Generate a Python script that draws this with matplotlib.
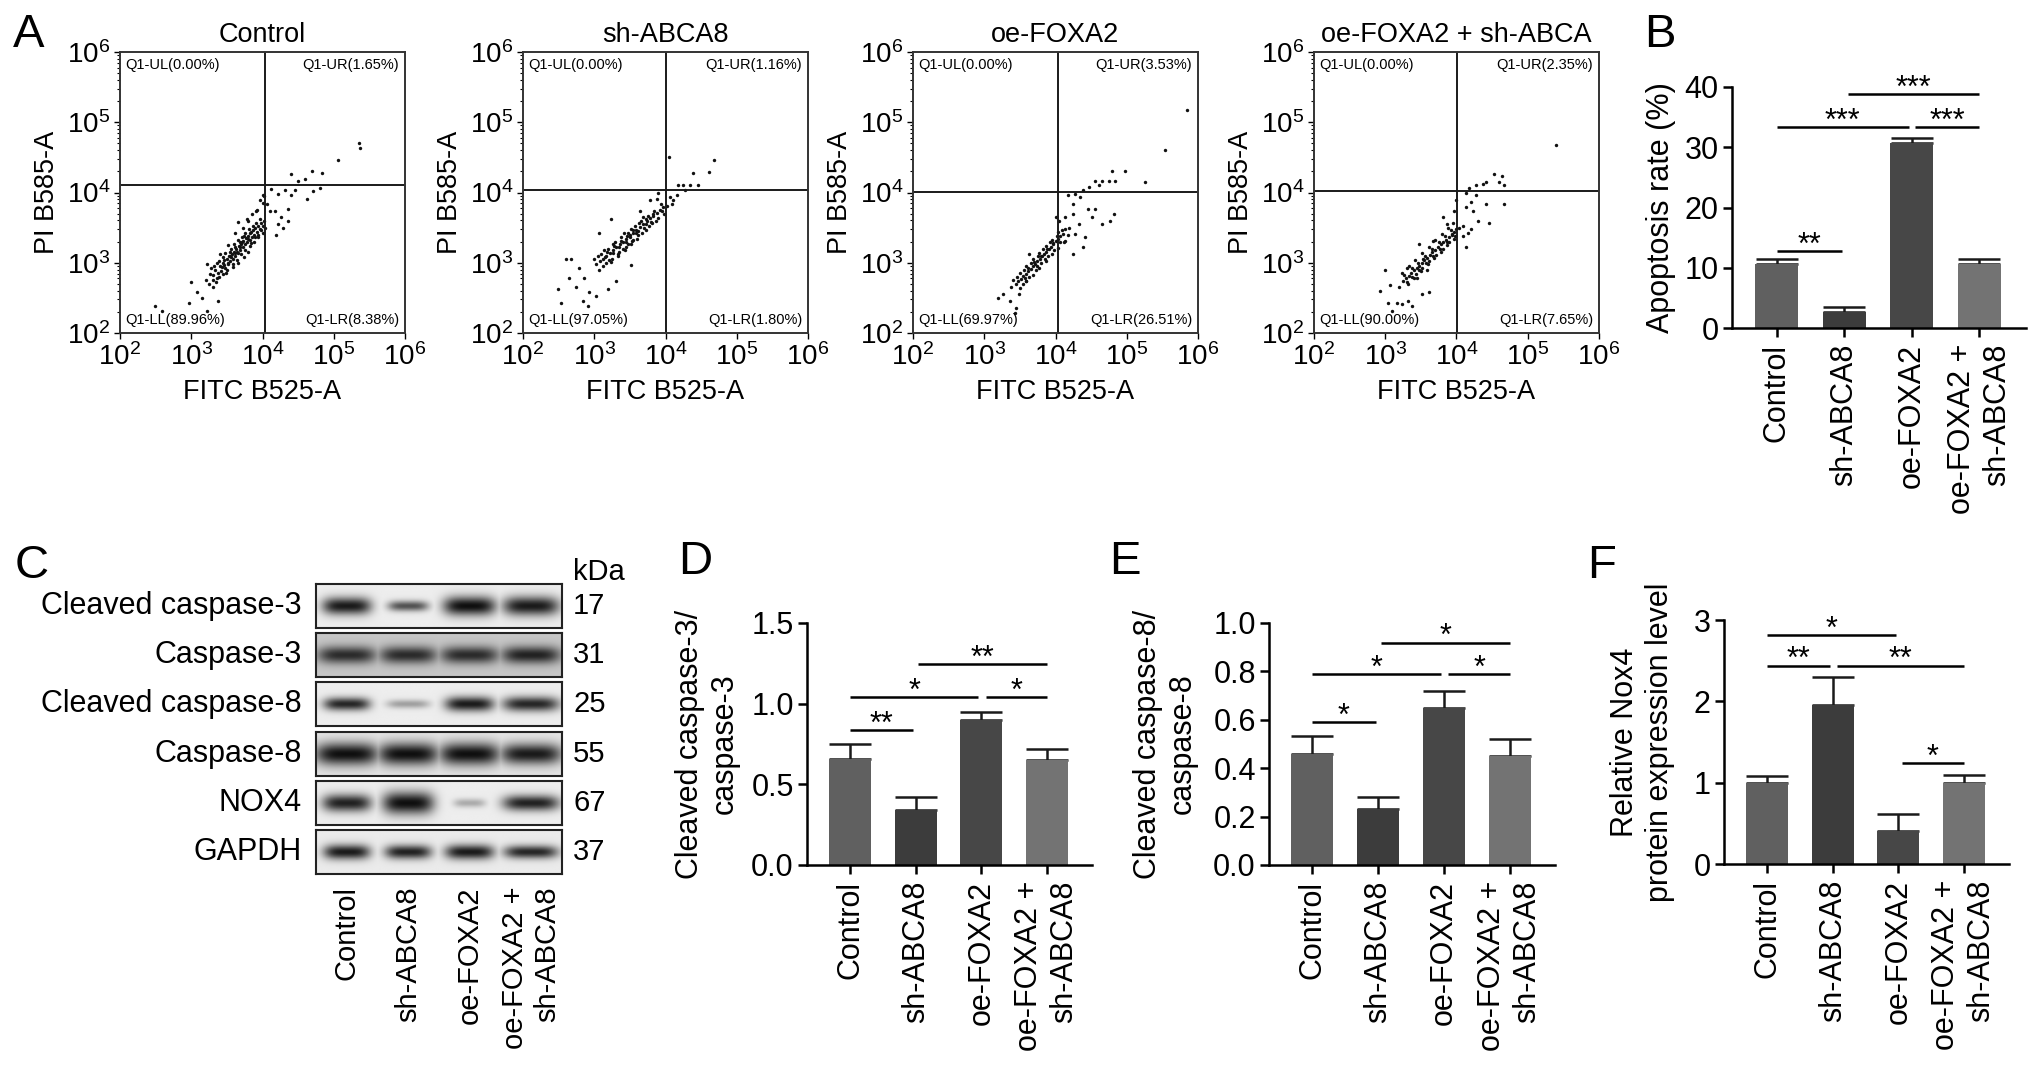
import numpy as np
import matplotlib
matplotlib.use("Agg")
import matplotlib.pyplot as plt
from matplotlib.ticker import NullFormatter

plt.rcParams['font.family'] = ['Liberation Sans', 'DejaVu Sans']
plt.rcParams['mathtext.fontset'] = 'custom'
plt.rcParams['mathtext.rm'] = 'Liberation Sans'
plt.rcParams['mathtext.it'] = 'Liberation Sans:italic'
plt.rcParams['mathtext.bf'] = 'Liberation Sans:bold'

W, H = 2032, 1068

# ---------------- data ----------------
groups = ['Control', 'sh-ABCA8', 'oe-FOXA2', 'oe-FOXA2 +\nsh-ABCA8']
bar_colors = ['#606060', '#3c3c3c', '#474747', '#737373']

flow_titles = ['Control', 'sh-ABCA8', 'oe-FOXA2', 'oe-FOXA2 + sh-ABCA']
flow_quadrants = [('0.00', '1.65', '89.96', '8.38'),
                  ('0.00', '1.16', '97.05', '1.80'),
                  ('0.00', '3.53', '69.97', '26.51'),
                  ('0.00', '2.35', '90.00', '7.65')]
# quadrant gates (log10 FITC, log10 PI)
gate_x = [4.04, 4.00, 4.04, 4.01]
gate_y = [4.11, 4.03, 4.01, 4.02]

# events as (log10 FITC, log10 PI)
ctrl_events = [
    (3.30, 2.82), (3.34, 2.90), (3.38, 2.86), (3.40, 2.95), (3.42, 2.88), (3.45, 3.00), (3.47, 2.93),
    (3.50, 3.05), (3.52, 2.98), (3.53, 3.10), (3.55, 3.02), (3.57, 3.12), (3.58, 3.06), (3.60, 3.16),
    (3.62, 3.10), (3.63, 3.20), (3.65, 3.14), (3.67, 3.24), (3.68, 3.18), (3.70, 3.27), (3.72, 3.22),
    (3.73, 3.31), (3.75, 3.26), (3.77, 3.35), (3.78, 3.30), (3.80, 3.38), (3.82, 3.33), (3.83, 3.42),
    (3.85, 3.37), (3.87, 3.46), (3.88, 3.40), (3.90, 3.49), (3.92, 3.44), (3.94, 3.52), (3.96, 3.48),
    (3.98, 3.56), (4.00, 3.52), (4.02, 3.60),
    (3.28, 2.92), (3.36, 3.00), (3.44, 3.08), (3.48, 3.14), (3.56, 3.20), (3.60, 3.26), (3.66, 3.32),
    (3.71, 3.36), (3.76, 3.42), (3.81, 3.48), (3.86, 3.52), (3.91, 3.57), (3.96, 3.62),
    (3.36, 2.78), (3.44, 2.84), (3.50, 2.90), (3.58, 2.98), (3.64, 3.04), (3.70, 3.12), (3.76, 3.18),
    (3.82, 3.24), (3.88, 3.30), (3.94, 3.36), (4.00, 3.42), (4.04, 3.50),
    (3.32, 2.96), (3.39, 2.80), (3.46, 3.04), (3.49, 2.86), (3.54, 3.16), (3.59, 2.94), (3.61, 3.22),
    (3.66, 3.00), (3.69, 3.30), (3.74, 3.08), (3.74, 3.38), (3.79, 3.16), (3.84, 3.28), (3.89, 3.36),
    (3.93, 3.40), (3.98, 3.46), (3.43, 2.94), (3.51, 3.00), (3.56, 3.08), (3.64, 3.16), (3.69, 3.22),
    (3.79, 3.34), (3.84, 3.44), (3.31, 2.76), (3.26, 2.84), (3.39, 3.02), (3.46, 2.97), (3.54, 3.10),
    (3.61, 3.14), (3.71, 3.30),
    (3.20, 2.75), (3.25, 2.70), (3.30, 2.65), (3.35, 2.72), (3.22, 2.98), (3.40, 3.12), (3.52, 3.25),
    (3.62, 3.42), (3.72, 3.50), (3.78, 3.62), (3.85, 3.70), (3.92, 3.75), (4.00, 3.85), (4.02, 3.95),
    (2.49, 2.39), (2.59, 2.31), (2.99, 2.72), (2.97, 2.43), (3.22, 2.31), (3.15, 2.50), (3.37, 2.46),
    (3.08, 2.58),
    (4.17, 3.74), (4.26, 3.65), (4.36, 3.77), (4.40, 3.96), (4.22, 3.98), (4.31, 4.03), (4.45, 4.03),
    (4.12, 4.05), (4.50, 4.17), (4.40, 4.27), (4.59, 4.19), (4.69, 4.31), (4.83, 4.28), (4.80, 4.07),
    (4.62, 3.91), (4.71, 4.02), (5.06, 4.46), (5.35, 4.70), (5.37, 4.64), (4.07, 3.84), (4.22, 3.55),
    (4.29, 3.50), (4.19, 3.39), (4.36, 3.60), (4.10, 3.74), (4.00, 3.96), (3.96, 3.89), (3.91, 3.74),
    (3.79, 3.60), (3.65, 3.58)]

sh_events = [
    (3.03, 2.98), (3.08, 3.02), (3.12, 3.06), (3.17, 3.10), (3.22, 3.14), (3.27, 3.18), (3.31, 3.22),
    (3.36, 3.26), (3.41, 3.30), (3.45, 3.34), (3.50, 3.39), (3.55, 3.43), (3.59, 3.47), (3.64, 3.51),
    (3.69, 3.55), (3.74, 3.59), (3.78, 3.63), (3.83, 3.67), (3.88, 3.71), (3.92, 3.75), (3.97, 3.79),
    (3.00, 3.06), (3.10, 3.13), (3.19, 3.20), (3.29, 3.29), (3.38, 3.36), (3.47, 3.43), (3.57, 3.52),
    (3.66, 3.59), (3.75, 3.67), (3.84, 3.74), (3.93, 3.83),
    (3.07, 2.90), (3.16, 2.99), (3.25, 3.06), (3.35, 3.15), (3.44, 3.23), (3.53, 3.31), (3.62, 3.39),
    (3.72, 3.47), (3.81, 3.56), (3.90, 3.63), (3.98, 3.70),
    (3.20, 3.04), (3.33, 3.12), (3.40, 3.20), (3.48, 3.27), (3.55, 3.33), (3.62, 3.45), (3.70, 3.50),
    (3.80, 3.58), (3.14, 3.18), (3.26, 3.26), (3.42, 3.42), (3.52, 3.48), (3.68, 3.65),
    (3.05, 3.10), (3.12, 2.95), (3.18, 3.16), (3.24, 3.01), (3.28, 3.24), (3.33, 3.09), (3.37, 3.31),
    (3.43, 3.18), (3.46, 3.38), (3.51, 3.26), (3.54, 3.46), (3.60, 3.34), (3.63, 3.56), (3.67, 3.43),
    (3.72, 3.62), (3.77, 3.52), (3.82, 3.70), (3.86, 3.60), (3.95, 3.74), (3.35, 3.22), (3.45, 3.30),
    (3.58, 3.42), (3.73, 3.55), (3.15, 3.08), (3.26, 3.14),
    (2.49, 2.62), (2.53, 2.43), (2.60, 3.05), (2.67, 3.05), (2.74, 2.65), (2.84, 2.46), (2.91, 2.39),
    (3.03, 2.53), (2.93, 2.58), (3.19, 2.62), (3.31, 2.74), (3.52, 2.97), (2.79, 2.93), (2.65, 2.79),
    (2.86, 2.79), (3.07, 3.43), (3.24, 3.62), (3.50, 3.36), (3.64, 3.74), (3.78, 3.89), (3.88, 3.91),
    (3.90, 4.00),
    (4.05, 4.50), (4.68, 4.46), (4.61, 4.29), (4.39, 4.28), (4.18, 4.10), (4.25, 4.10), (4.35, 4.10),
    (4.46, 4.10), (4.28, 4.03), (4.16, 3.96), (4.06, 3.94), (4.11, 3.89), (4.02, 3.81), (4.09, 3.84)]

oe_events = [
    (3.45, 2.70), (3.52, 2.77), (3.58, 2.84), (3.65, 2.91), (3.71, 2.98), (3.78, 3.06), (3.84, 3.13),
    (3.91, 3.20), (3.97, 3.27), (4.04, 3.34), (4.10, 3.41),
    (3.48, 2.74), (3.55, 2.81), (3.61, 2.88), (3.68, 2.95), (3.74, 3.02), (3.81, 3.09), (3.87, 3.16),
    (3.94, 3.23), (4.00, 3.31), (4.07, 3.38),
    (3.41, 2.76), (3.50, 2.86), (3.59, 2.95), (3.68, 3.05), (3.77, 3.14), (3.86, 3.24), (3.95, 3.33),
    (4.04, 3.44),
    (3.50, 2.64), (3.59, 2.74), (3.68, 2.83), (3.77, 2.93), (3.86, 3.02), (3.95, 3.12), (4.04, 3.21),
    (4.12, 3.30),
    (3.46, 2.80), (3.54, 2.70), (3.56, 2.90), (3.63, 2.80), (3.66, 3.00), (3.72, 2.90), (3.75, 3.10),
    (3.80, 3.00), (3.83, 3.20), (3.89, 3.10), (3.92, 3.29), (3.98, 3.18), (4.02, 3.38), (3.62, 2.92),
    (3.70, 3.01), (3.79, 3.10), (3.88, 3.20), (3.96, 3.28), (3.57, 2.78), (3.74, 2.96), (3.85, 3.06),
    (4.06, 3.30), (4.09, 3.46), (4.13, 3.48), (4.18, 3.40),
    (3.19, 2.50), (3.26, 2.55), (3.36, 2.46), (3.45, 2.36), (3.43, 2.29), (3.38, 2.65), (3.49, 2.55),
    (3.59, 2.74), (3.63, 3.12),
    (4.14, 3.65), (4.24, 3.70), (4.33, 3.55), (4.42, 3.36), (4.38, 3.22), (4.19, 3.50), (4.28, 3.41),
    (4.51, 3.65), (4.65, 3.55), (4.77, 3.60), (4.82, 3.70), (4.56, 3.77), (4.45, 3.77), (4.24, 3.84),
    (4.17, 3.96), (4.28, 3.98), (4.38, 4.03), (4.47, 4.08), (4.56, 4.17), (4.65, 4.17), (4.75, 4.17),
    (4.84, 4.17), (4.61, 4.10), (4.79, 4.30), (4.98, 4.30), (5.26, 4.15), (5.53, 4.61), (5.85, 5.18),
    (4.14, 3.31), (4.24, 3.12), (4.05, 3.60), (4.00, 3.65), (4.35, 3.93)]

combo_events = [
    (3.25, 2.74), (3.29, 2.78), (3.33, 2.81), (3.36, 2.85), (3.40, 2.89), (3.44, 2.93), (3.48, 2.96),
    (3.51, 3.00), (3.55, 3.04), (3.59, 3.07), (3.63, 3.11), (3.66, 3.15), (3.70, 3.18), (3.74, 3.22),
    (3.78, 3.26), (3.81, 3.30), (3.85, 3.33), (3.89, 3.37), (3.93, 3.41), (3.96, 3.44), (4.00, 3.48),
    (3.24, 2.86), (3.33, 2.95), (3.42, 3.04), (3.52, 3.14), (3.61, 3.23), (3.70, 3.32), (3.79, 3.41),
    (3.88, 3.50), (3.95, 3.56),
    (3.32, 2.70), (3.41, 2.79), (3.50, 2.88), (3.60, 2.98), (3.69, 3.07), (3.78, 3.16), (3.87, 3.25),
    (3.96, 3.34),
    (3.27, 2.82), (3.31, 2.72), (3.37, 2.92), (3.43, 2.84), (3.46, 3.00), (3.52, 2.92), (3.56, 3.10),
    (3.62, 3.02), (3.65, 3.20), (3.71, 3.11), (3.75, 3.29), (3.81, 3.20), (3.84, 3.38), (3.90, 3.29),
    (3.92, 3.46), (3.98, 3.38), (3.38, 2.80), (3.47, 2.90), (3.57, 2.99), (3.67, 3.09), (3.77, 3.19),
    (3.86, 3.30), (3.94, 3.40), (3.30, 2.92), (3.53, 3.06),
    (2.92, 2.60), (2.99, 2.89), (3.04, 2.43), (3.09, 2.31), (3.16, 2.43), (3.23, 2.41), (3.32, 2.46),
    (3.37, 2.39), (3.62, 2.58), (3.51, 2.55), (3.06, 2.69), (3.20, 2.65), (3.44, 2.79), (3.58, 2.89),
    (3.48, 3.27), (3.67, 3.31), (3.81, 3.65), (3.86, 3.55), (3.97, 3.74), (3.99, 3.89),
    (4.14, 4.00), (4.18, 4.07), (4.28, 4.10), (4.37, 4.12), (4.42, 4.15), (4.53, 4.27), (4.60, 4.15),
    (4.64, 4.24), (4.67, 4.10), (4.28, 3.96), (4.20, 3.86), (4.14, 3.79), (4.23, 3.74), (4.30, 3.60),
    (4.42, 3.84), (4.46, 3.56), (4.67, 3.84), (4.14, 3.22), (4.09, 3.53), (4.04, 3.50), (4.21, 3.48),
    (5.39, 4.67), (4.09, 3.38), (4.16, 3.43)]

flow_events = [ctrl_events, sh_events, oe_events, combo_events]

# bar charts: mean and SD
apoptosis_mean = [10.6, 2.7, 30.7, 10.6]
apoptosis_sd = [0.8, 0.8, 0.9, 0.9]
cc3_mean = [0.66, 0.34, 0.90, 0.65]
cc3_sd = [0.09, 0.08, 0.05, 0.07]
cc8_mean = [0.46, 0.23, 0.65, 0.45]
cc8_sd = [0.075, 0.05, 0.07, 0.07]
nox4_mean = [1.00, 1.95, 0.40, 1.00]
nox4_sd = [0.08, 0.35, 0.22, 0.10]

# significance brackets: (from group, to group, height, stars)
apoptosis_sig = [(0, 0.97, 12.8, '**'), (0, 1.96, 33.3, '***'), (2.05, 3, 33.3, '***'),
                 (1.05, 3, 38.8, '***')]
cc3_sig = [(0, 0.96, 0.835, '**'), (0, 1.95, 1.04, '*'), (2.07, 3, 1.04, '*'), (1.04, 3, 1.246, '**')]
cc8_sig = [(0, 0.96, 0.592, '*'), (0, 1.95, 0.79, '*'), (2.07, 3, 0.79, '*'), (1.04, 3, 0.919, '*')]
nox4_sig = [(0, 1.97, 2.81, '*'), (0, 0.96, 2.44, '**'), (1.06, 3, 2.44, '**'), (2.05, 3, 1.24, '*')]

# western blot
blot_rows = ['Cleaved caspase-3', 'Caspase-3', 'Cleaved caspase-8', 'Caspase-8', 'NOX4', 'GAPDH']
blot_kda = ['17', '31', '25', '55', '67', '37']
blot_intensity = [[0.95, 0.70, 1.00, 0.95],
                  [0.85, 0.85, 0.85, 0.90],
                  [0.90, 0.35, 0.95, 0.90],
                  [1.00, 1.00, 1.00, 0.95],
                  [0.92, 1.00, 0.30, 0.92],
                  [0.95, 0.92, 0.95, 0.90]]
blot_halfwidth = [[0.40, 0.33, 0.43, 0.46],
                  [0.48, 0.47, 0.48, 0.48],
                  [0.38, 0.35, 0.40, 0.46],
                  [0.52, 0.50, 0.50, 0.50],
                  [0.40, 0.42, 0.26, 0.46],
                  [0.38, 0.38, 0.40, 0.44]]
blot_halfheight = [[0.20, 0.12, 0.22, 0.22],
                   [0.20, 0.20, 0.20, 0.20],
                   [0.15, 0.10, 0.17, 0.17],
                   [0.26, 0.26, 0.26, 0.24],
                   [0.20, 0.26, 0.10, 0.18],
                   [0.17, 0.16, 0.17, 0.15]]
blot_background = [0.93, 0.78, 0.93, 0.90, 0.93, 0.92]


def px_axes(left, top, width, height):
    return fig.add_axes([left / W, 1 - (top + height) / H, width / W, height / H])


fig = plt.figure(figsize=(W / 100, H / 100), dpi=100)

# ---------------- A: flow cytometry ----------------
flow_left = [120, 523, 913, 1314]
for k in range(4):
    ax = px_axes(flow_left[k], 52, 285, 281)
    ev = np.array(flow_events[k])
    ax.scatter(10 ** ev[:, 0], 10 ** ev[:, 1], s=6, c='#111111', marker='o', linewidths=0)
    ax.set_xscale('log')
    ax.set_yscale('log')
    ax.set_xlim(1e2, 1e6)
    ax.set_ylim(1e2, 1e6)
    ax.axvline(10 ** gate_x[k], color='#1a1a1a', lw=1.4)
    ax.axhline(10 ** gate_y[k], color='#1a1a1a', lw=1.4)
    for s in ax.spines.values():
        s.set_linewidth(1.4)
        s.set_color('#333333')
    dec = [1e2, 1e3, 1e4, 1e5, 1e6]
    dec_lbl = [r'$\mathregular{10^{%d}}$' % p for p in range(2, 7)]
    ax.set_xticks(dec)
    ax.set_xticklabels(dec_lbl)
    ax.set_yticks(dec)
    ax.set_yticklabels(dec_lbl)
    ax.xaxis.set_minor_formatter(NullFormatter())
    ax.yaxis.set_minor_formatter(NullFormatter())
    ax.tick_params(which='major', direction='out', length=4, width=1, labelsize=20, pad=3)
    ax.tick_params(which='minor', direction='out', length=2.2, width=0.8)
    ax.set_title(flow_titles[k], fontsize=19.5, pad=7)
    ax.set_xlabel('FITC B525-A', fontsize=19.5, labelpad=6)
    ax.set_ylabel('PI B585-A', fontsize=19.5)
    ax.yaxis.set_label_coords(-0.21, 0.5)
    ul, ur, ll, lr = flow_quadrants[k]
    qfs = 10.5
    ax.text(0.02, 0.955, 'Q1-UL(%s%%)' % ul, transform=ax.transAxes, fontsize=qfs, va='center', ha='left')
    ax.text(0.98, 0.955, 'Q1-UR(%s%%)' % ur, transform=ax.transAxes, fontsize=qfs, va='center', ha='right')
    ax.text(0.02, 0.045, 'Q1-LL(%s%%)' % ll, transform=ax.transAxes, fontsize=qfs, va='center', ha='left')
    ax.text(0.98, 0.045, 'Q1-LR(%s%%)' % lr, transform=ax.transAxes, fontsize=qfs, va='center', ha='right')


# ---------------- bar charts ----------------
def bar_panel(ax, means, sds, top, ticks, ticklabels, ylabel, sigs, label_x):
    x = np.arange(len(groups))
    ax.errorbar(x, means, yerr=[np.zeros(len(sds)), sds], fmt='none', ecolor='#1a1a1a',
                elinewidth=1.8, capsize=15, capthick=1.8, zorder=1)
    ax.bar(x, means, width=0.64, color=bar_colors, zorder=2)
    ax.set_xlim(-0.66, 3.69)
    ax.set_ylim(0, top)
    ax.set_yticks(ticks)
    ax.set_yticklabels(ticklabels)
    ax.set_xticks(x)
    ax.set_xticklabels(groups, rotation=90, multialignment='right')
    for side in ['top', 'right']:
        ax.spines[side].set_visible(False)
    for side in ['left', 'bottom']:
        ax.spines[side].set_linewidth(1.8)
    ax.tick_params(axis='both', direction='out', length=6.5, width=1.8, labelsize=22)
    ax.tick_params(axis='y', pad=3)
    ax.tick_params(axis='x', pad=5)
    ax.set_ylabel(ylabel, fontsize=22)
    ax.yaxis.set_label_coords(label_x, 0.5)
    for x1, x2, y, txt in sigs:
        ax.plot([x1, x2], [y, y], color='black', lw=1.8, clip_on=False, solid_capstyle='butt')
        ax.annotate(txt, ((x1 + x2) / 2, y), xytext=(0, -2), textcoords='offset points',
                    ha='center', va='baseline', fontsize=22, annotation_clip=False)


axB = px_axes(1732, 87, 294, 241)
bar_panel(axB, apoptosis_mean, apoptosis_sd, 40, [0, 10, 20, 30, 40], ['0', '10', '20', '30', '40'],
          'Apoptosis rate (%)', apoptosis_sig, -0.19)

axD = px_axes(807, 623, 285, 242)
bar_panel(axD, cc3_mean, cc3_sd, 1.5, [0, 0.5, 1.0, 1.5], ['0.0', '0.5', '1.0', '1.5'],
          'Cleaved caspase-3/\ncaspase-3', cc3_sig, -0.235)

axE = px_axes(1269, 623, 286, 242)
bar_panel(axE, cc8_mean, cc8_sd, 1.0, [0, 0.2, 0.4, 0.6, 0.8, 1.0],
          ['0.0', '0.2', '0.4', '0.6', '0.8', '1.0'],
          'Cleaved caspase-8/\ncaspase-8', cc8_sig, -0.25)

axF = px_axes(1724, 620, 285, 244)
bar_panel(axF, nox4_mean, nox4_sd, 3, [0, 1, 2, 3], ['0', '1', '2', '3'],
          'Relative Nox4\nprotein expression level', nox4_sig, -0.172)

# ---------------- C: western blot ----------------
xx = np.linspace(0, 4, 400)
yy = np.linspace(0, 1, 60)
X, Y = np.meshgrid(xx, yy)
for r in range(len(blot_rows)):
    ax = px_axes(316, 584 + 49.2 * r, 246, 44)
    dark = np.zeros_like(X)
    for i in range(4):
        band = blot_intensity[r][i] * np.exp(-np.abs((X - (i + 0.5)) / blot_halfwidth[r][i]) ** 4
                                             - ((Y - 0.5) / blot_halfheight[r][i]) ** 2)
        dark = np.maximum(dark, band)
    img = blot_background[r] * (1 - dark) + 0.06 * dark
    ax.imshow(img, cmap='gray', vmin=0, vmax=1, extent=(0, 4, 0, 1), aspect='auto',
              interpolation='bilinear')
    ax.set_xlim(0, 4)
    ax.set_ylim(0, 1)
    ax.set_yticks([])
    for s in ax.spines.values():
        s.set_linewidth(1.5)
        s.set_color('#222222')
    ax.text(-0.057, 0.5, blot_rows[r], transform=ax.transAxes, ha='right', va='center', fontsize=22)
    ax.text(1.045, 0.5, blot_kda[r], transform=ax.transAxes, ha='left', va='center', fontsize=21)
    if r == 0:
        ax.text(1.045, 1.28, 'kDa', transform=ax.transAxes, ha='left', va='center', fontsize=21)
    if r == len(blot_rows) - 1:
        ax.set_xticks([0.5, 1.5, 2.5, 3.5])
        ax.set_xticklabels(groups, rotation=90, multialignment='right', fontsize=21)
        ax.tick_params(axis='x', length=0, pad=9)
    else:
        ax.set_xticks([])

# ---------------- panel letters ----------------
letters = [('A', 13, 13), ('B', 1644, 13), ('C', 15, 544), ('D', 678, 540), ('E', 1109, 540),
           ('F', 1587, 544)]
for t, lx, ly in letters:
    fig.text(lx / W, 1 - ly / H, t, fontsize=34, ha='left', va='top')

fig.savefig('out.png', dpi=100)
